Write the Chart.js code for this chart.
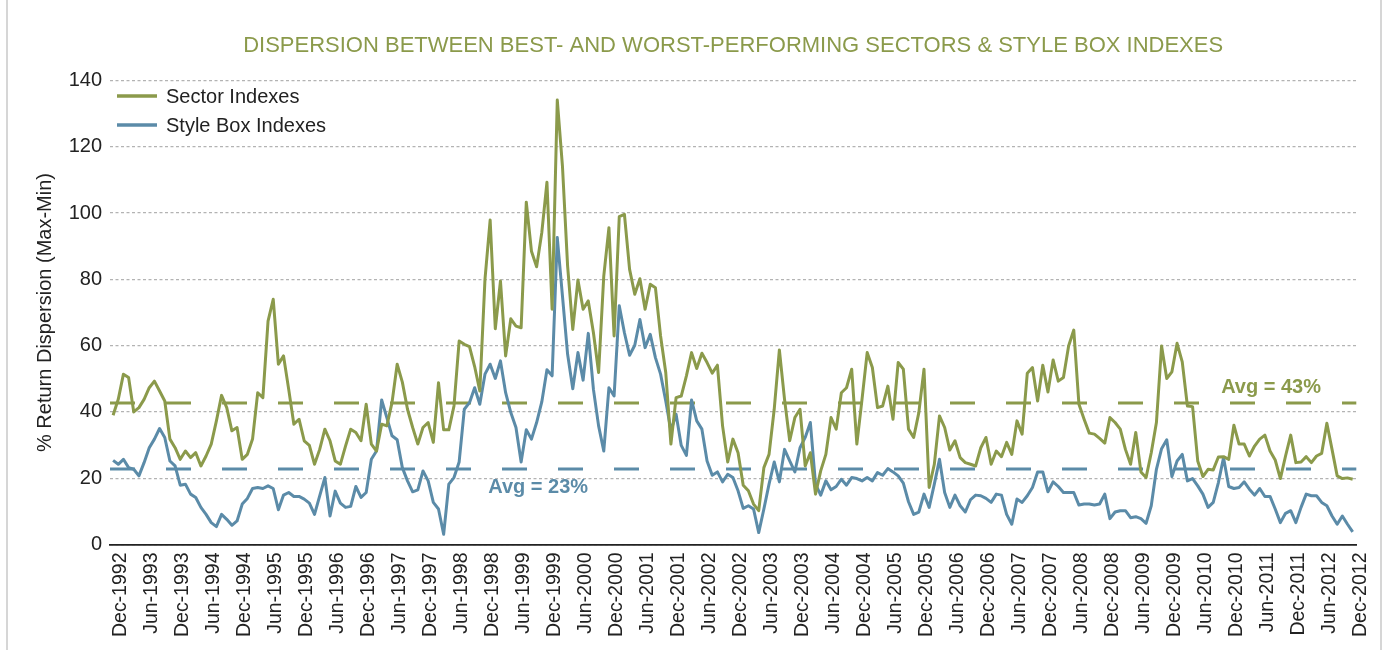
<!DOCTYPE html>
<html>
<head>
<meta charset="utf-8">
<script src="https://cdn.jsdelivr.net/npm/chart.js@4.4.1/dist/chart.umd.min.js"></script>
<style>
  html, body { margin: 0; padding: 0; background: #ffffff; }
  #wrap { position: relative; width: 1385px; height: 650px; }
  canvas { display: block; }
</style>
</head>
<body>
<div id="wrap"><canvas id="c" width="1385" height="650"></canvas></div>
<script>
// ---- Data (monthly, Dec-1992 .. Dec-2012) ----
const tickLabels = ['Dec-1992','Jun-1993','Dec-1993','Jun-1994','Dec-1994','Jun-1995','Dec-1995','Jun-1996','Dec-1996','Jun-1997',
  'Dec-1997','Jun-1998','Dec-1998','Jun-1999','Dec-1999','Jun-2000','Dec-2000','Jun-2001','Dec-2001','Jun-2002',
  'Dec-2002','Jun-2003','Dec-2003','Jun-2004','Dec-2004','Jun-2005','Dec-2005','Jun-2006','Dec-2006','Jun-2007',
  'Dec-2007','Jun-2008','Dec-2008','Jun-2009','Dec-2009','Jun-2010','Dec-2010','Jun-2011','Dec-2011','Jun-2012','Dec-2012'];

const sectorIndexes = [
  39.0,43.8,51.4,50.4,40.0,41.3,43.8,47.3,49.3,46.3,43.3,31.8,29.2,25.7,28.2,26.2,27.7,23.7,26.7,30.3,
  37.3,45.0,41.3,34.3,35.3,25.7,27.2,31.8,45.8,44.3,67.4,74.0,54.4,56.9,46.8,36.3,37.8,31.3,29.9,24.2,
  28.7,34.8,31.3,25.2,24.2,29.7,34.8,33.8,31.3,42.3,30.3,28.2,36.3,35.8,42.8,54.4,49.0,40.8,35.3,30.3,
  35.3,36.8,30.8,48.8,34.6,34.6,41.8,61.4,60.4,59.7,53.7,46.3,80.0,97.9,65.1,79.5,56.9,68.1,65.9,65.4,
  103.3,88.5,83.8,94.1,109.3,71.0,134.1,114.2,84.0,64.9,79.8,71.0,73.5,63.9,51.9,81.0,95.6,62.9,98.9,99.6,
  83.0,75.5,80.2,71.0,78.5,77.5,62.9,51.9,30.3,44.3,44.8,50.9,57.9,53.1,57.7,54.9,51.7,54.1,35.8,24.9,
  31.8,27.7,17.9,16.2,12.2,10.2,23.2,27.2,40.8,58.7,43.8,31.3,38.3,40.8,23.7,27.7,15.2,22.2,27.2,38.3,
  34.8,45.8,47.3,52.9,30.3,43.8,57.9,53.4,41.3,41.8,47.8,37.8,54.9,52.9,34.8,32.3,39.8,52.9,17.2,24.2,
  38.8,35.3,28.5,31.3,26.2,24.7,24.2,23.7,29.2,32.3,24.2,28.2,26.5,30.8,27.2,37.3,33.3,51.7,53.4,43.3,
  54.1,46.0,55.7,49.3,50.4,59.9,64.7,42.3,37.8,33.6,33.3,32.0,30.6,38.3,36.8,34.8,28.7,24.2,33.8,21.9,
  20.2,27.7,36.8,59.9,50.1,52.1,60.7,55.1,41.8,41.6,25.2,20.5,22.7,22.5,26.4,26.5,25.7,36.0,30.3,30.3,
  26.7,29.7,31.8,33.0,28.2,25.5,19.9,26.7,33.0,24.7,24.9,26.5,24.7,26.7,27.5,36.6,28.7,20.7,19.9,20.1,
  19.7
];

const styleBoxIndexes = [
  25.4,24.2,25.7,23.2,22.7,20.7,24.7,29.2,31.8,35.0,32.3,25.2,23.7,17.9,18.2,15.2,14.2,11.2,9.1,6.6,
  5.4,9.1,7.6,5.8,7.1,12.2,13.9,16.9,17.2,16.9,17.7,16.9,10.5,14.9,15.7,14.5,14.5,13.7,12.5,9.1,
  14.7,20.2,8.6,16.1,12.5,11.2,11.5,17.5,14.2,15.7,25.7,28.2,43.6,38.3,32.8,31.6,23.2,19.2,15.9,16.5,
  22.2,19.2,12.7,10.7,3.1,18.2,20.2,24.9,40.8,42.8,47.3,42.3,51.4,54.4,50.1,55.4,45.8,39.8,35.3,24.9,
  34.6,31.8,36.8,43.0,52.7,50.9,92.6,75.0,57.4,47.0,57.9,49.6,63.7,46.8,35.8,28.2,47.3,44.8,72.0,63.9,
  57.1,60.1,67.9,59.4,63.4,56.4,51.4,43.3,34.3,39.3,29.9,26.9,43.6,37.3,34.8,25.2,20.9,21.9,18.9,21.2,
  20.2,16.2,10.9,11.7,10.7,3.6,10.7,18.2,24.9,18.9,28.7,25.2,21.9,29.2,32.3,36.8,18.2,14.9,19.2,16.5,
  17.5,19.7,17.9,20.2,19.9,19.2,20.2,19.2,21.7,20.9,22.9,21.9,20.7,18.5,12.9,9.1,9.8,15.2,11.2,18.2,
  25.7,15.7,11.2,14.9,11.7,9.8,13.5,14.9,14.7,13.9,12.7,15.2,14.9,9.1,6.1,13.7,12.7,14.7,17.2,21.9,
  21.9,15.9,18.9,17.5,15.7,15.7,15.7,11.9,12.2,12.2,11.9,12.2,15.2,7.8,9.8,10.2,10.2,8.1,8.4,7.8,
  6.4,11.7,22.7,28.9,31.6,20.5,25.2,27.2,19.2,19.9,17.7,15.2,11.2,12.7,18.7,26.2,17.5,16.9,17.2,18.9,
  16.7,14.9,16.9,14.5,14.5,10.7,6.6,9.4,10.2,6.6,11.2,15.2,14.7,14.7,12.7,11.7,8.6,6.1,8.6,6.1,
  3.8
];

const seriesNames = ['Sector Indexes', 'Style Box Indexes'];
const averages = [42.7, 22.8];
const averageLabels = ['Avg = 43%', 'Avg = 23%'];
const yTicks = [0, 20, 40, 60, 80, 100, 120, 140];

// ---- Styling ----
const GREEN = '#8B9A4B';
const BLUE = '#5B8BA8';
const TEXT = '#222222';
const FONT = "'Liberation Sans', Arial, sans-serif";
Chart.defaults.font.family = FONT;
Chart.defaults.color = TEXT;

const toPoints = arr => arr.map((v, i) => ({ x: i, y: v }));

const overlay = {
  id: 'overlay',
  beforeDraw(chart) {
    const ctx = chart.ctx;
    ctx.save();
    ctx.fillStyle = '#ffffff';
    ctx.fillRect(0, 0, chart.width, chart.height);
    ctx.strokeStyle = '#c9c9c9';
    ctx.lineWidth = 1.5;
    ctx.beginPath();
    ctx.moveTo(7, 0); ctx.lineTo(7, chart.height);
    ctx.moveTo(1381, 0); ctx.lineTo(1381, chart.height);
    ctx.stroke();
    ctx.restore();
  },
  beforeDatasetsDraw(chart) {
    const ctx = chart.ctx, ca = chart.chartArea, ys = chart.scales.y;
    const colors = [GREEN, BLUE];
    ctx.save();
    ctx.lineWidth = 3;
    ctx.setLineDash([25, 31]);
    averages.forEach((a, k) => {
      const y = ys.getPixelForValue(a);
      ctx.strokeStyle = colors[k];
      ctx.beginPath();
      ctx.moveTo(ca.left, y);
      ctx.lineTo(ca.right, y);
      ctx.stroke();
    });
    ctx.restore();
  },
  afterDatasetsDraw(chart) {
    const ctx = chart.ctx, ca = chart.chartArea, xs = chart.scales.x, ys = chart.scales.y;
    ctx.save();
    // average labels
    const labelPos = [[224.2, 47.5], [82.3, 17.3]];
    const colors = [GREEN, BLUE];
    ctx.font = 'bold 20px ' + FONT;
    ctx.textAlign = 'center';
    ctx.textBaseline = 'middle';
    averageLabels.forEach((t, k) => {
      ctx.fillStyle = colors[k];
      ctx.fillText(t, xs.getPixelForValue(labelPos[k][0]), ys.getPixelForValue(labelPos[k][1]));
    });
    // legend
    ctx.font = '20px ' + FONT;
    ctx.textAlign = 'left';
    seriesNames.forEach((name, k) => {
      const y = ca.top + 15.5 + k * 29;
      ctx.strokeStyle = colors[k];
      ctx.lineWidth = 3.5;
      ctx.setLineDash([]);
      ctx.beginPath();
      ctx.moveTo(ca.left + 7, y);
      ctx.lineTo(ca.left + 47, y);
      ctx.stroke();
      ctx.fillStyle = TEXT;
      ctx.fillText(name, ca.left + 56, y + 1);
    });
    ctx.restore();
  }
};

new Chart(document.getElementById('c'), {
  type: 'line',
  data: {
    datasets: [
      { label: seriesNames[0], data: toPoints(sectorIndexes), borderColor: GREEN, backgroundColor: GREEN,
        borderWidth: 3, pointRadius: 0, tension: 0, borderJoinStyle: 'round', fill: false },
      { label: seriesNames[1], data: toPoints(styleBoxIndexes), borderColor: BLUE, backgroundColor: BLUE,
        borderWidth: 3, pointRadius: 0, tension: 0, borderJoinStyle: 'round', fill: false }
    ]
  },
  options: {
    responsive: false,
    animation: false,
    devicePixelRatio: 1,
    layout: { padding: { left: 0, right: 28.7, top: 0, bottom: 0 } },
    plugins: {
      legend: { display: false },
      tooltip: { enabled: false },
      title: {
        display: true,
        text: 'DISPERSION BETWEEN BEST- AND WORST-PERFORMING SECTORS & STYLE BOX INDEXES',
        color: GREEN,
        fullSize: false,
        font: { size: 22, weight: 'normal', family: FONT, lineHeight: 1.2 },
        padding: { top: 33, bottom: 21.1 }
      }
    },
    scales: {
      x: {
        type: 'linear',
        min: -0.6,
        max: 240.7,
        grid: { display: false, drawTicks: false },
        border: { display: true, color: '#222222', width: 1.8 },
        afterBuildTicks(scale) {
          scale.ticks = tickLabels.map((_, k) => ({ value: k * 6 }));
        },
        afterFit(scale) { scale.height = 105.5; },
        ticks: {
          autoSkip: false,
          minRotation: 90,
          maxRotation: 90,
          padding: 8,
          labelOffset: 8,
          color: TEXT,
          font: { size: 19.5, family: FONT },
          callback: (value) => tickLabels[Math.round(value / 6)]
        }
      },
      y: {
        min: 0,
        max: 140,
        afterBuildTicks(scale) {
          scale.ticks = yTicks.map(v => ({ value: v }));
        },
        afterFit(scale) { scale.width = 110; },
        grid: { color: '#b3b3b3', lineWidth: 1.3, drawTicks: false },
        border: { display: false, dash: [3, 2.5] },
        ticks: { padding: 8, color: TEXT, font: { size: 20, family: FONT } },
        title: {
          display: true,
          text: '% Return Dispersion (Max-Min)',
          color: TEXT,
          font: { size: 20, family: FONT, lineHeight: 1.2 },
          padding: { top: 33, bottom: 0 }
        }
      }
    }
  },
  plugins: [overlay]
});
</script>
</body>
</html>
